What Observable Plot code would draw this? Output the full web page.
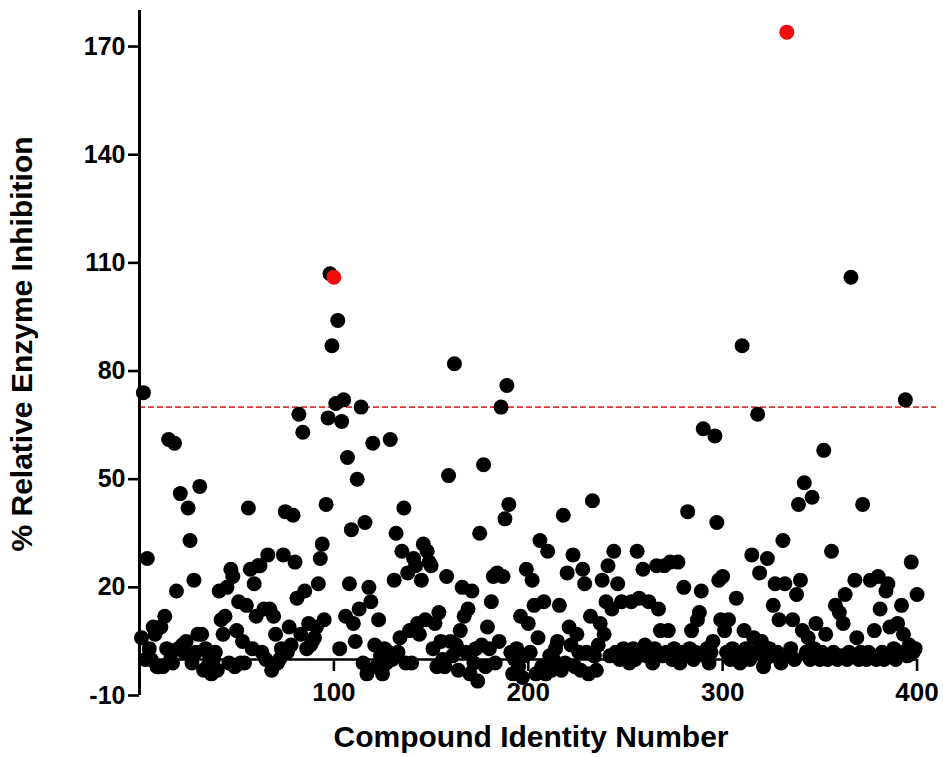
<!DOCTYPE html>
<html>
<head>
<meta charset="utf-8">
<script src="https://cdn.jsdelivr.net/npm/d3@7"></script>
<script src="https://cdn.jsdelivr.net/npm/@observablehq/plot@0.6"></script>
<style>
  html, body { margin: 0; padding: 0; background: #fff; }
  #chart { width: 943px; height: 757px; }
</style>
</head>
<body>
<div id="chart"></div>
<script>
// % relative enzyme inhibition for compounds 1..400 (compound number = position + 1)
const inhibition = [
  6, 74, 0, 28, 3, 0, 9, 7, -2, -2,
  9, -2, 12, 3, 61, 0, -1, 60, 19, 3,
  46, 4, 2, 5, 42, 33, -1, 22, 2, 7,
  48, 7, -3, 3, -2, 1, -4, 0, 2, -3,
  19, 11, 7, 12, 20, -1, 25, 23, -2, 8,
  16, -1, 5, -1, 15, 42, 25, 3, 21, 12,
  26, 26, 2, 14, 0, 29, 14, -3, 12, 7,
  -1, 0, 3, 29, 41, 2, 9, 4, 40, 27,
  17, 68, 7, 63, 19, 3, 10, 4, 5, 6,
  9, 21, 28, 32, 11, 43, 67, 107, 87, 106,
  71, 94, 3, 66, 72, 12, 56, 21, 36, 10,
  5, 50, 14, 70, -1, 38, -4, 20, 16, 60,
  4, -2, 11, 1, -4, 3, -1, 2, 61, 0,
  22, 35, 2, 6, 30, 42, -1, 24, 8, -1,
  28, 26, 10, 7, 22, 32, 11, 30, 27, 26,
  3, 10, -2, 13, 5, 0, -2, 23, 51, 5,
  1, 82, 4, -3, 8, 20, 12, 2, 14, -4,
  19, -1, 3, -6, 35, 4, 54, -2, 9, 3,
  16, 23, -1, 24, 5, 70, 23, 39, 76, 43,
  2, -4, 0, 3, -2, 12, -5, 1, 25, 10,
  2, 22, 15, -4, 6, 33, -2, 16, -4, 30,
  1, -3, 0, 3, 5, 15, -3, 40, -1, 24,
  9, 4, 29, -2, 7, 2, -3, 25, 21, 2,
  -4, 12, 44, 1, -3, 4, 10, 22, 7, 16,
  26, 1, 14, 30, 2, 21, 0, 16, 3, 1,
  2, -1, 16, 3, 0, 30, 17, 2, 25, 4,
  1, 16, 2, -1, 3, 26, 14, 8, 1, 26,
  2, 8, 27, 0, 3, 1, 27, -1, 2, 20,
  1, 41, 3, 8, 0, 2, 11, 13, 19, 64,
  1, 3, -1, 2, 5, 62, 38, 22, 11, 23,
  8, 2, 11, 0, 3, 1, 17, 2, -1, 87,
  8, 3, 1, 0, 29, 6, 2, 68, 24, 5,
  -2, 0, 28, 3, 1, 15, 21, 2, 11, -1,
  33, 21, 174, 1, 3, 11, 0, 18, 43, 22,
  8, 49, 2, 6, 0, 45, 3, 10, 1, 0,
  2, 58, 7, 0, 1, 30, 2, 15, 0, 13,
  1, 10, 18, 0, 2, 106, 1, 22, 6, 0,
  2, 43, 1, 0, 2, 22, 1, 8, 0, 23,
  14, 2, 0, 19, 21, 9, 1, 3, 0, 10,
  2, 15, 7, 72, 1, 4, 27, 2, 3, 18
];

// compounds shown in red
const highlighted = [100, 333];

// hit threshold (dashed line)
const threshold = [70];

const xTicks = [100, 200, 300, 400];
const yTicks = [-10, 20, 50, 80, 110, 140, 170];

const xTitle = "Compound Identity Number";
const yTitle = "% Relative Enzyme Inhibition";

const compounds = inhibition.map((value, i) => ({id: i + 1, value}));
const regular = compounds.filter(d => !highlighted.includes(d.id));
const hits = compounds.filter(d => highlighted.includes(d.id));

const font = "'Liberation Sans', Arial, Helvetica, sans-serif";
const plain = d => String(d); // hyphen-minus, as in "-10"

const chart = Plot.plot({
  width: 943,
  height: 757,
  marginLeft: 139,
  marginRight: 7,
  marginTop: 10,
  marginBottom: 62,
  x: {domain: [0, 410]},
  y: {domain: [-10, 180]},
  style: {fontFamily: font, fontWeight: "bold", color: "#000", background: "#fff", overflow: "visible"},
  marks: [
    // threshold line
    Plot.ruleY(threshold, {stroke: "#de3b36", strokeWidth: 1.8, strokeDasharray: "6,3"}),

    // y axis
    Plot.ruleX([0], {stroke: "#000", strokeWidth: 3}),
    Plot.axisY({ticks: yTicks, tickFormat: plain, tickSize: 11, tickPadding: 3, fontSize: 25, fontWeight: "bold", strokeWidth: 2.6, label: null}),

    // x axis drawn along y = 0
    Plot.ruleY([0], {x1: 0, x2: xTicks[xTicks.length - 1], stroke: "#000", strokeWidth: 2.6}),
    Plot.axisX({ticks: xTicks, tickFormat: plain, tickSize: 12, tickPadding: 11, fontSize: 26, fontWeight: "bold", strokeWidth: 2.6, dy: -36, label: null}),

    // compounds
    Plot.dot(regular, {x: "id", y: "value", r: 7.5, fill: "#000", stroke: null}),
    Plot.dot(hits, {x: "id", y: "value", r: 7.5, fill: "#f20d0d", stroke: null}),

    // axis titles
    Plot.text([yTitle], {frameAnchor: "left", textAnchor: "middle", dx: -117, dy: -9, rotate: -90, fontSize: 30, fontWeight: "bold", fill: "#000"}),
    Plot.text([xTitle], {frameAnchor: "bottom", dx: -7, dy: 51, fontSize: 30, fontWeight: "bold", fill: "#000"})
  ]
});

document.getElementById("chart").appendChild(chart);
</script>
</body>
</html>
